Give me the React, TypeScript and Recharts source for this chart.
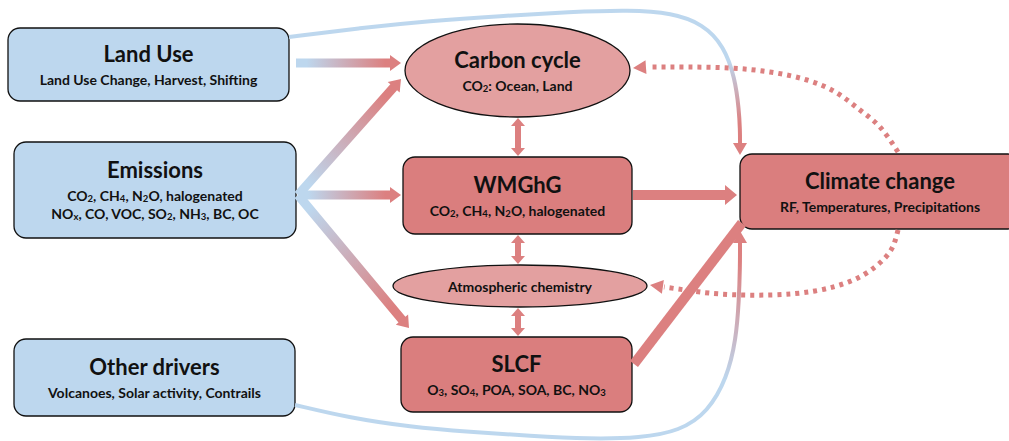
import { ComposedChart, XAxis, YAxis, ReferenceArea, ReferenceLine, Line, Scatter } from 'recharts';

const W = 1009;
const H = 441;

const BLUE = '#BDD7EE';
const RED_BOX = '#DA7E7E';
const RED_ELLIPSE = '#E3A0A0';
const RED_ARROW = '#DC8080';
const FONT = 'Lato, "Open Sans", sans-serif';

// boxes, in diagram units (x to the right, y downwards)
const driverBoxes = [
  { title: 'Land Use', lines: ['Land Use Change, Harvest, Shifting'], x1: 8, x2: 289, y1: 28, y2: 101 },
  { title: 'Emissions', lines: ['CO_2, CH_4, N_2O, halogenated', 'NO_x, CO, VOC, SO_2, NH_3, BC, OC'], x1: 14, x2: 296, y1: 142, y2: 238 },
  { title: 'Other drivers', lines: ['Volcanoes, Solar activity, Contrails'], x1: 14, x2: 295, y1: 339, y2: 416 },
];

const processBoxes = [
  { title: 'WMGhG', lines: ['CO_2, CH_4, N_2O, halogenated'], x1: 403, x2: 632, y1: 157, y2: 234 },
  { title: 'SLCF', lines: ['O_3, SO_4, POA, SOA, BC, NO_3'], x1: 401, x2: 632, y1: 337, y2: 412 },
  { title: 'Climate change', lines: ['RF, Temperatures, Precipitations'], x1: 740, x2: 1020, y1: 154, y2: 229 },
];

const ellipses = [
  { title: 'Carbon cycle', lines: ['CO_2: Ocean, Land'], x1: 405, x2: 630, y1: 24, y2: 117 },
  { title: 'Atmospheric chemistry', lines: [], x1: 393, x2: 647, y1: 265, y2: 307 },
];

// straight arrows [from, to]
const driverArrows = [
  { from: [296, 63], to: [401, 63] },
  { from: [298, 195], to: [401, 79] },
  { from: [298, 195], to: [401, 195] },
  { from: [298, 195], to: [409, 328] },
];

const linkArrows = [
  { from: [518, 118], to: [518, 156] },
  { from: [518, 235], to: [518, 264] },
  { from: [518, 308], to: [518, 336] },
];

const climateArrows = [
  { from: [633, 195], to: [737, 195], head: true },
  { from: [634, 364], to: [742, 223], head: false },
];

// curved links, last point is the arrow tip
const landUseCurve = [
  [289, 37], [360, 28], [430, 21], [500, 16], [570, 12], [630, 10], [672, 13], [703, 24], [724, 46], [735, 78], [739, 110], [740, 130], [740, 143], [740, 155],
];
const otherDriversCurve = [
  [295, 405], [350, 418], [410, 427], [470, 432], [530, 436], [590, 439], [640, 438], [680, 431], [708, 412], [727, 378], [736, 340], [739, 300], [740, 265], [740, 250], [740, 243], [740, 231],
];
const feedbackCarbon = [
  [898, 152], [880, 127], [860, 110], [837, 93], [807, 80], [770, 72], [730, 68], [687, 67], [648, 67], [633, 68],
];
const feedbackChemistry = [
  [898, 230], [891, 250], [875, 267], [851, 281], [815, 291], [770, 295], [720, 294], [685, 290], [664, 287], [650, 285],
];

const toPoints = (pts: number[][]) => pts.slice(0, -1).map(([x, y]) => ({ x, y }));

const headOf = (pts: number[][], kind: string) => {
  const [tx, ty] = pts[pts.length - 1];
  const [px, py] = pts[pts.length - 2];
  return { x: tx, y: ty, angle: Math.atan2(ty - py, tx - px), kind };
};

const curveHeads = [
  headOf(landUseCurve, 'solid'),
  headOf(otherDriversCurve, 'solid'),
  headOf(feedbackCarbon, 'dotted'),
  headOf(feedbackChemistry, 'dotted'),
];

function RichText({ x, y, text, size }: { x: number; y: number; text: string; size: number }) {
  const parts = text.split(/(_[0-9a-zA-Z])/).filter((s) => s !== '');
  const shift = size * 0.22;
  let lowered = false;
  return (
    <text x={x} y={y} textAnchor="middle" dominantBaseline="central" fontFamily={FONT} fontWeight={700} fontSize={size} fill="#111">
      {parts.map((p, i) => {
        if (p.startsWith('_')) {
          lowered = true;
          return (
            <tspan key={i} fontSize={size * 0.68} dy={shift}>
              {p.slice(1)}
            </tspan>
          );
        }
        const dy = lowered ? -shift : 0;
        lowered = false;
        return (
          <tspan key={i} dy={dy}>
            {p}
          </tspan>
        );
      })}
    </text>
  );
}

function Labels({ cx, cy, title, lines, titleSize }: any) {
  const gap = 26;
  const step = 18;
  const span = lines.length ? gap + step * (lines.length - 1) : 0;
  const top = cy - span / 2 + (lines.length ? 1 : 0);
  return (
    <g>
      <RichText x={cx} y={top} text={title} size={titleSize} />
      {lines.map((l: string, i: number) => (
        <RichText key={i} x={cx} y={top + gap + step * i} text={l} size={14} />
      ))}
    </g>
  );
}

const boxShape = (b: any, fill: string) => (p: any) => (
  <g>
    <rect x={p.x} y={p.y} width={p.width} height={p.height} rx={12} ry={12} fill={fill} stroke="#111" strokeWidth={1.3} />
    <Labels cx={p.x + p.width / 2} cy={p.y + p.height / 2} title={b.title} lines={b.lines} titleSize={22} />
  </g>
);

const ellipseShape = (b: any) => (p: any) => (
  <g>
    <ellipse cx={p.x + p.width / 2} cy={p.y + p.height / 2} rx={p.width / 2} ry={p.height / 2} fill={RED_ELLIPSE} stroke="#111" strokeWidth={1.3} />
    <Labels cx={p.x + p.width / 2} cy={p.y + p.height / 2} title={b.title} lines={b.lines} titleSize={b.lines.length ? 22 : 14} />
  </g>
);

function arrowPolygon(x1: number, y1: number, x2: number, y2: number, w: number, hw: number, hl: number, headStart: boolean, headEnd: boolean) {
  const len = Math.hypot(x2 - x1, y2 - y1);
  const ux = (x2 - x1) / len;
  const uy = (y2 - y1) / len;
  const nx = -uy;
  const ny = ux;
  const pt = (d: number, o: number) => `${x1 + ux * d + nx * o},${y1 + uy * d + ny * o}`;
  const pts: string[] = [];
  if (headStart) {
    pts.push(pt(0, 0), pt(hl, hw), pt(hl, w / 2));
  } else {
    pts.push(pt(0, w / 2));
  }
  if (headEnd) {
    pts.push(pt(len - hl, w / 2), pt(len - hl, hw), pt(len, 0), pt(len - hl, -hw), pt(len - hl, -w / 2));
  } else {
    pts.push(pt(len, w / 2), pt(len, -w / 2));
  }
  if (headStart) {
    pts.push(pt(hl, -w / 2), pt(hl, -hw));
  } else {
    pts.push(pt(0, -w / 2));
  }
  return pts.join(' ');
}

const driverArrowShape = (i: number) => (p: any) => {
  const id = `drv-${i}`;
  return (
    <g>
      <defs>
        <linearGradient id={id} gradientUnits="userSpaceOnUse" x1={p.x1} y1={p.y1} x2={p.x2} y2={p.y2}>
          <stop offset="0.1" stopColor={BLUE} />
          <stop offset="0.85" stopColor={RED_ARROW} />
        </linearGradient>
      </defs>
      <polygon points={arrowPolygon(p.x1, p.y1, p.x2, p.y2, 9, 8, 11, false, true)} fill={`url(#${id})`} />
    </g>
  );
};

const linkArrowShape = (p: any) => (
  <polygon points={arrowPolygon(p.x1, p.y1, p.x2, p.y2, 6, 7, 8, true, true)} fill={RED_ARROW} />
);

const climateArrowShape = (head: boolean) => (p: any) => (
  <polygon points={arrowPolygon(p.x1, p.y1, p.x2, p.y2, 10, 10, 12, false, head)} fill={RED_ARROW} />
);

const HeadShape = (p: any) => {
  const { cx, cy, payload } = p;
  const hl = payload.kind === 'dotted' ? 13 : 12;
  const hw = 7;
  const deg = (payload.angle * 180) / Math.PI;
  return (
    <polygon
      points={`0,0 ${-hl},${hw} ${-hl},${-hw}`}
      transform={`translate(${cx},${cy}) rotate(${deg})`}
      fill={RED_ARROW}
    />
  );
};

export default function App() {
  return (
    <div style={{ width: W, height: H, background: '#fff' }}>
      <style>{'body{margin:0}'}</style>
      <ComposedChart width={W} height={H} margin={{ top: 0, right: 0, bottom: 0, left: 0 }}>
        <defs>
          <linearGradient id="landUseGrad" x1="0" y1="0" x2="0" y2="1">
            <stop offset="0.38" stopColor={BLUE} />
            <stop offset="0.85" stopColor={RED_ARROW} />
          </linearGradient>
          <linearGradient id="otherGrad" x1="0" y1="0" x2="0" y2="1">
            <stop offset="0.1" stopColor={RED_ARROW} />
            <stop offset="0.7" stopColor={BLUE} />
          </linearGradient>
        </defs>
        <XAxis type="number" dataKey="x" domain={[0, W]} hide allowDataOverflow />
        <YAxis type="number" dataKey="y" domain={[0, H]} reversed hide allowDataOverflow />

        <Line data={toPoints(landUseCurve)} dataKey="y" type="basis" stroke="url(#landUseGrad)" strokeWidth={4} dot={false} activeDot={false} isAnimationActive={false} />
        <Line data={toPoints(otherDriversCurve)} dataKey="y" type="basis" stroke="url(#otherGrad)" strokeWidth={4} dot={false} activeDot={false} isAnimationActive={false} />
        <Line data={toPoints(feedbackCarbon)} dataKey="y" type="natural" stroke={RED_ARROW} strokeWidth={5} strokeDasharray="4 5" dot={false} activeDot={false} isAnimationActive={false} />
        <Line data={toPoints(feedbackChemistry)} dataKey="y" type="natural" stroke={RED_ARROW} strokeWidth={5} strokeDasharray="4 5" dot={false} activeDot={false} isAnimationActive={false} />
        <Scatter data={curveHeads} dataKey="y" shape={HeadShape} isAnimationActive={false} />

        {driverArrows.map((a, i) => (
          <ReferenceLine key={`d${i}`} segment={[{ x: a.from[0], y: a.from[1] }, { x: a.to[0], y: a.to[1] }]} ifOverflow="visible" shape={driverArrowShape(i)} />
        ))}
        {linkArrows.map((a, i) => (
          <ReferenceLine key={`l${i}`} segment={[{ x: a.from[0], y: a.from[1] }, { x: a.to[0], y: a.to[1] }]} ifOverflow="visible" shape={linkArrowShape} />
        ))}
        {climateArrows.map((a, i) => (
          <ReferenceLine key={`c${i}`} segment={[{ x: a.from[0], y: a.from[1] }, { x: a.to[0], y: a.to[1] }]} ifOverflow="visible" shape={climateArrowShape(a.head)} />
        ))}

        {driverBoxes.map((b, i) => (
          <ReferenceArea key={`b${i}`} x1={b.x1} x2={b.x2} y1={b.y1} y2={b.y2} ifOverflow="visible" shape={boxShape(b, BLUE)} />
        ))}
        {processBoxes.map((b, i) => (
          <ReferenceArea key={`p${i}`} x1={b.x1} x2={b.x2} y1={b.y1} y2={b.y2} ifOverflow="visible" shape={boxShape(b, RED_BOX)} />
        ))}
        {ellipses.map((b, i) => (
          <ReferenceArea key={`e${i}`} x1={b.x1} x2={b.x2} y1={b.y1} y2={b.y2} ifOverflow="visible" shape={ellipseShape(b)} />
        ))}
      </ComposedChart>
    </div>
  );
}
